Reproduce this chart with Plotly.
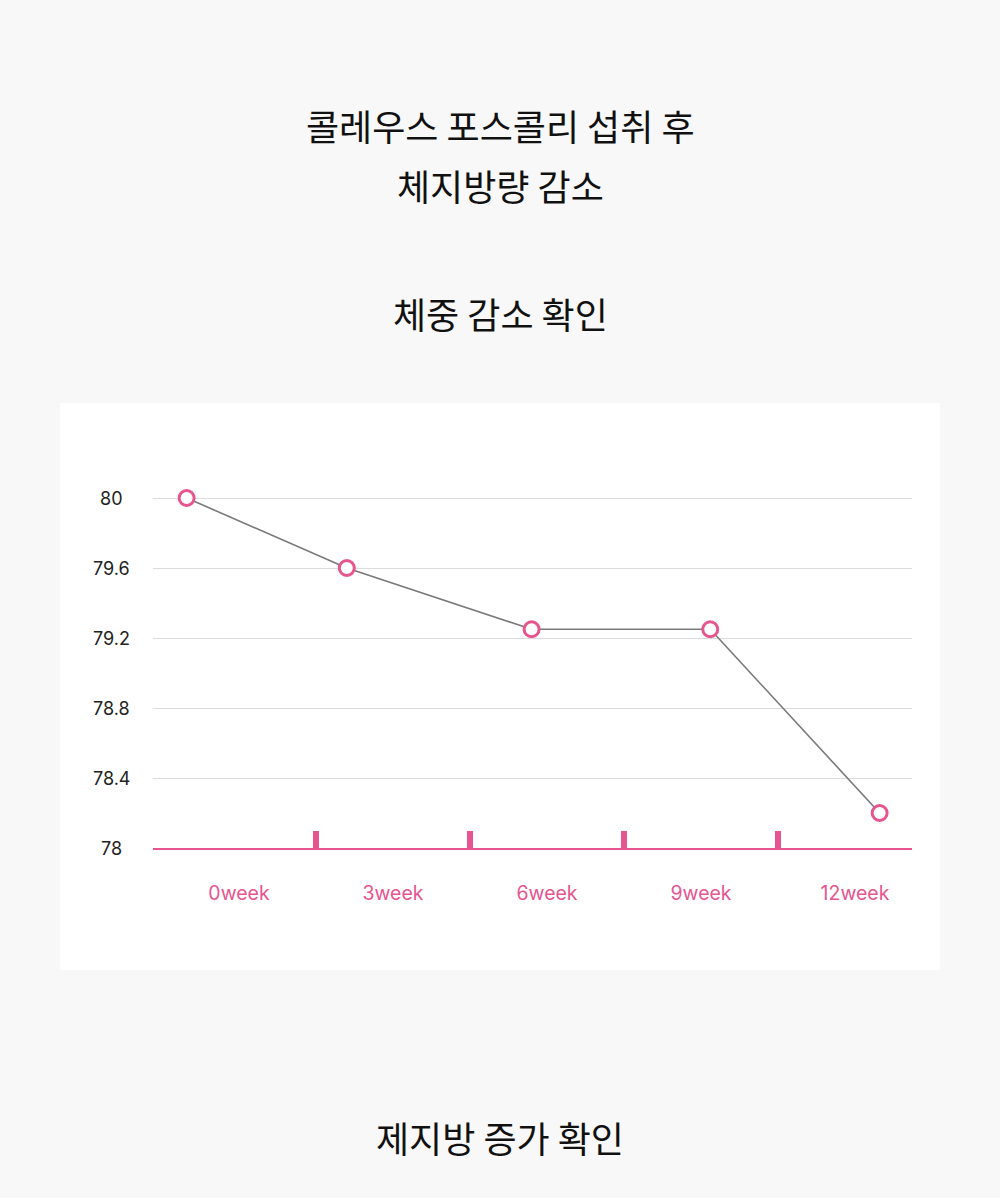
import plotly.graph_objects as go

# ---- data ----
week_labels = ["0week", "3week", "6week", "9week", "12week"]
week_index = [0, 1, 2, 3, 4]
point_x = [-0.34, 0.70, 1.90, 3.06, 4.16]      # where each marker sits along the category axis
weight = [80.0, 79.6, 79.25, 79.25, 78.2]
y_ticks = [78, 78.4, 78.8, 79.2, 79.6, 80]
y_tick_text = ["78", "78.4", "78.8", "79.2", "79.6", "80"]
boundaries = [0.5, 1.5, 2.5, 3.5]

title_lines = ["콜레우스 포스콜리 섭취 후", "체지방량 감소"]
chart_title = "체중 감소 확인"
next_title = "제지방 증가 확인"

PINK = "#e6558f"
KFONT = "Noto Sans CJK KR"

# plot area in px (page 1000 x 1198)
L, R, T, B = 153, 912, 460, 848
W, H = 1000, 1198
pw, ph = R - L, B - T

def px_x(x):
    return (x - L) / pw

def px_y(y):
    return (B - y) / ph

fig = go.Figure()
fig.add_trace(go.Scatter(
    x=point_x, y=weight, mode="lines+markers",
    line=dict(color="#7a7a7a", width=1.6),
    marker=dict(symbol="circle", size=15, color="white", line=dict(color=PINK, width=3)),
    cliponaxis=False, hoverinfo="skip", showlegend=False,
))

# white panel behind the chart
fig.add_shape(type="rect", xref="paper", yref="paper",
              x0=px_x(60), x1=px_x(940), y0=px_y(970), y1=px_y(403),
              fillcolor="white", line=dict(width=0), layer="below")

annotations = []
for i, t in enumerate(title_lines):
    annotations.append(dict(text=t, x=px_x(500), y=px_y(125 + 60 * i), xref="paper", yref="paper",
                            xanchor="center", yanchor="middle", showarrow=False,
                            font=dict(family=KFONT, size=36, color="#111111")))
annotations.append(dict(text=chart_title, x=px_x(500), y=px_y(313), xref="paper", yref="paper",
                        xanchor="center", yanchor="middle", showarrow=False,
                        font=dict(family=KFONT, size=36, color="#111111")))
annotations.append(dict(text=next_title, x=px_x(500), y=px_y(1137), xref="paper", yref="paper",
                        xanchor="center", yanchor="middle", showarrow=False,
                        font=dict(family=KFONT, size=36, color="#111111")))
for v, t in zip(y_ticks, y_tick_text):
    annotations.append(dict(text=t, x=px_x(111), y=v, xref="paper", yref="y",
                            xanchor="center", yanchor="middle", showarrow=False,
                            font=dict(family="Inter", size=18, color="#222222")))

x0 = (L - 239) / 154.0
x1 = (R - 239) / 154.0
y_top = 78 + (B - T) / 175.0

fig.update_layout(
    width=W, height=H,
    margin=dict(l=L, r=W - R, t=T, b=H - B, pad=0),
    paper_bgcolor="#f8f8f8", plot_bgcolor="white",
    annotations=annotations,
    xaxis=dict(range=[x0, x1], tickmode="array", tickvals=week_index, ticktext=week_labels,
               ticks="", showgrid=False, zeroline=False, showline=True, linecolor=PINK, linewidth=2,
               tickfont=dict(family="Inter", size=19.5, color=PINK), ticklabelstandoff=27,
               minor=dict(tickmode="array", tickvals=boundaries, ticks="inside", ticklen=17,
                          tickwidth=6, tickcolor=PINK, showgrid=False),
               fixedrange=True),
    yaxis=dict(range=[78, y_top], tickmode="array", tickvals=y_ticks, showticklabels=False,
               ticks="", showgrid=True, gridcolor="#dcdcdc", gridwidth=1, zeroline=False,
               showline=False, fixedrange=True),
)

fig.write_html("out.html")
